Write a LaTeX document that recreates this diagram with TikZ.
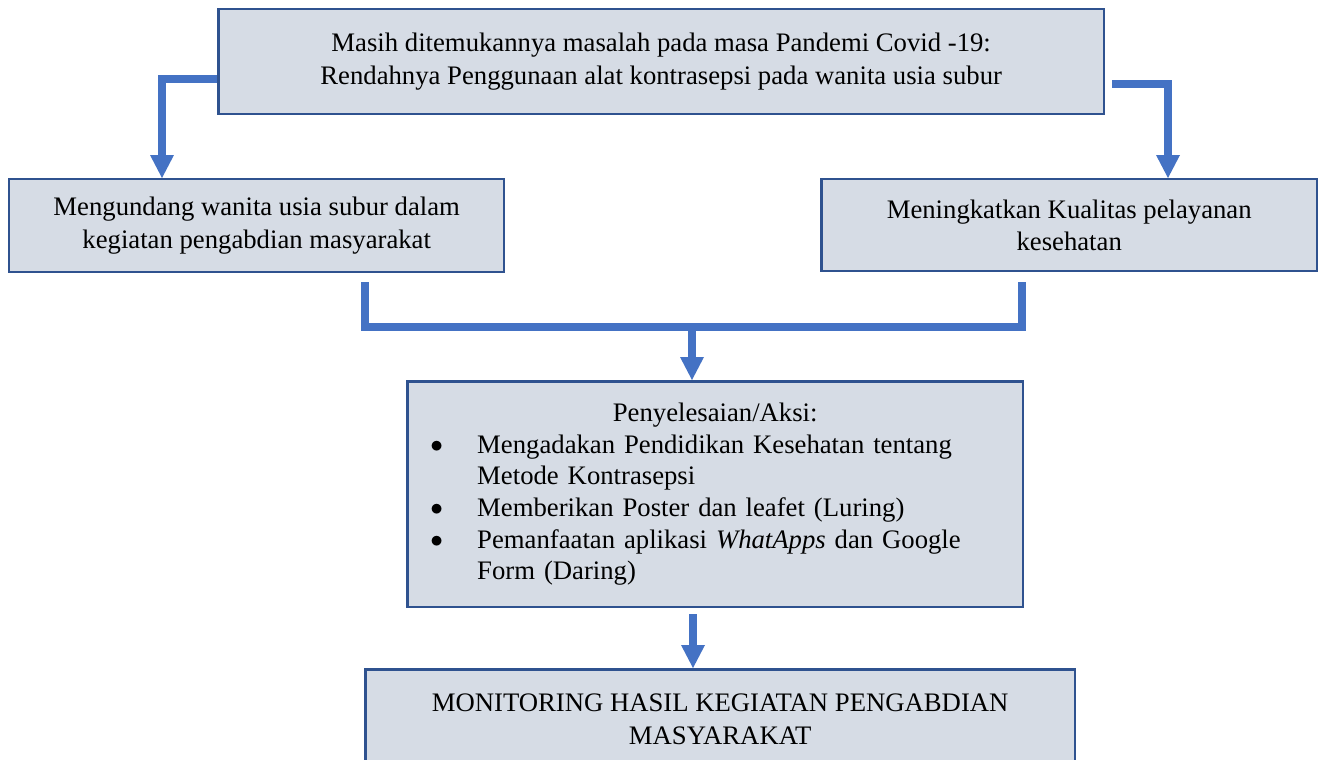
\documentclass[tikz,border=0pt]{standalone}
\usepackage{fontspec}
\setmainfont{Liberation Serif}
\usetikzlibrary{arrows.meta,calc}
\definecolor{boxfill}{HTML}{D6DCE5}
\definecolor{boxline}{HTML}{2F528F}
\definecolor{arrowblue}{HTML}{4472C4}
\newcommand{\bitem}[1]{\par\hangindent=1cm\hangafter=1\noindent\makebox[1cm][l]{\hspace*{0.06cm}\raisebox{0.02cm}{$\bullet$}}#1}
\begin{document}
\begin{tikzpicture}[x=0.02cm,y=-0.02cm,
  box/.style={draw=boxline, line width=0.05cm, fill=boxfill, inner sep=0pt, align=center, anchor=north west,
    font=\fontsize{15.2pt}{18.6pt}\selectfont},
  conn/.style={draw=arrowblue, line width=0.16cm},
  arr/.style={conn, -{Triangle[width=0.48cm,length=0.46cm,line width=0pt]}}]
\clip (0,0) rectangle (1318,760);
\fill[white] (0,0) rectangle (1318,760);

\node[box, minimum width=17.72cm, minimum height=2.1cm] (top) at (217,8)
  {Masih ditemukannya masalah pada masa Pandemi Covid -19:\\Rendahnya Penggunaan alat kontrasepsi pada wanita usia subur};
\node[box, minimum width=9.9cm, minimum height=1.86cm] (left) at (8,178)
  {Mengundang wanita usia subur dalam\\kegiatan pengabdian masyarakat};
\node[box, minimum width=9.92cm, minimum height=1.84cm] (right) at (820,178)
  {Meningkatkan Kualitas pelayanan\\kesehatan};
\node[box, minimum width=12.32cm, minimum height=4.52cm, text width=11.52cm, align=left,
  font=\fontsize{15.2pt}{18pt}\selectfont] (mid) at (406,380)
  {\raggedright{\centering Penyelesaian/Aksi:\par}
   \bitem{Mengadakan Pendidikan Kesehatan tentang\newline Metode Kontrasepsi}
   \bitem{Memberikan Poster dan leafet (Luring)}
   \bitem{Pemanfaatan aplikasi \textit{WhatApps} dan Google\newline Form (Daring)}\par
   \vspace*{0.08cm}};
\node[box, minimum width=14.2cm, minimum height=2cm] (bottom) at (364,668)
  {MONITORING HASIL KEGIATAN PENGABDIAN\\MASYARAKAT};

% connectors
\coordinate (s1) at ($(top.west)+(0,17.5)$);
\coordinate (e1) at ($(left.north west)+(154,0)$);
\draw[arr] (s1) -| (e1);
\coordinate (s2) at ($(top.east)+(7,22.5)$);
\coordinate (e2) at ($(right.north west)+(348,0)$);
\draw[arr] (s2) -| (e2);

\coordinate (sL) at ($(left.south west)+(357,9)$);
\coordinate (sR) at ($(right.south west)+(202,10)$);
\coordinate (jn) at (692,327);
\draw[conn] (sL) |- (jn) -| (sR);
\coordinate (e3) at ($(mid.north west)+(286,0)$);
\draw[arr] ($(jn)+(0,-4)$) -- (e3);

\coordinate (s4) at ($(mid.south west)+(287,6)$);
\coordinate (e4) at ($(bottom.north west)+(329,0)$);
\draw[arr] (s4) -- (e4);
\end{tikzpicture}
\end{document}
